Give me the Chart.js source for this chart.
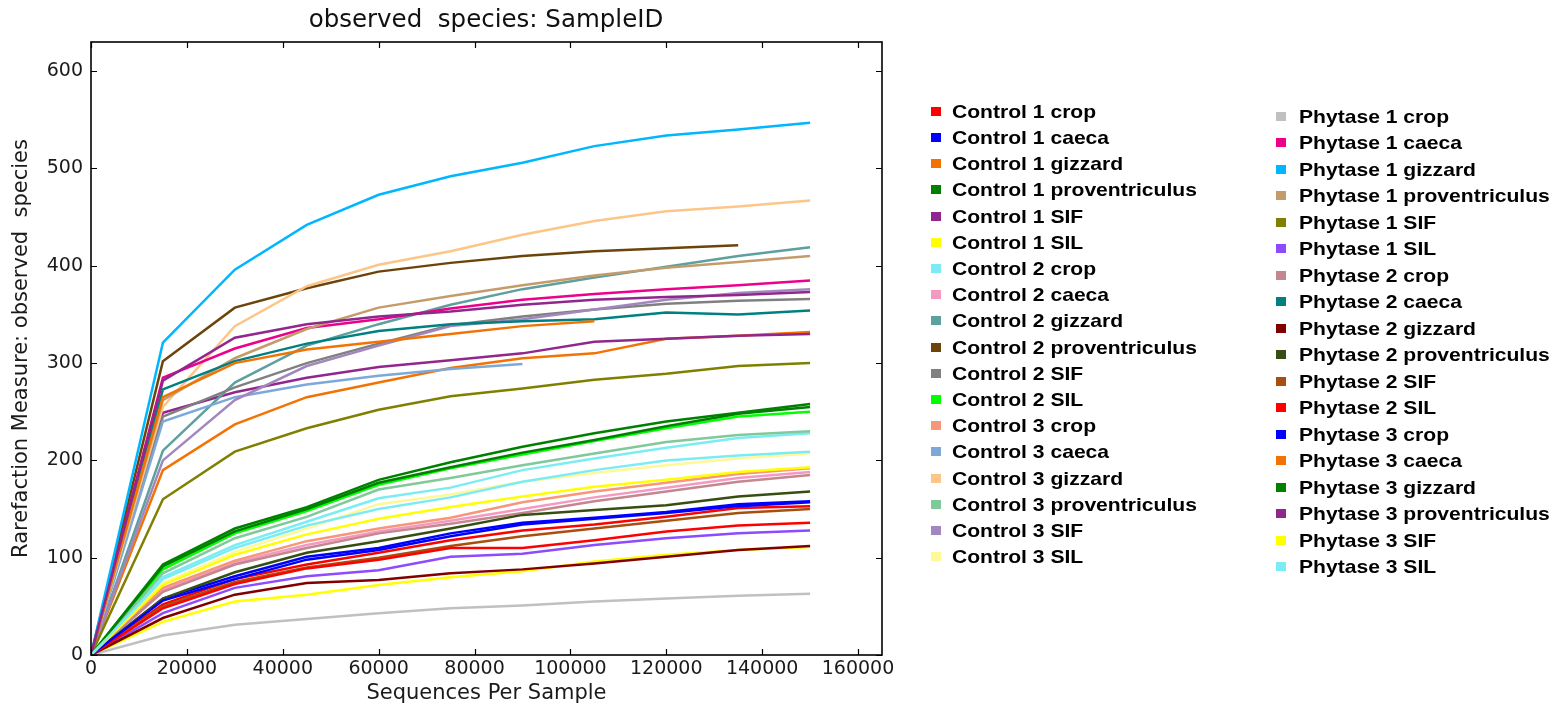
<!DOCTYPE html>
<html><head><meta charset="utf-8">
<script src="https://cdn.jsdelivr.net/npm/chart.js@4.4.1/dist/chart.umd.min.js"></script>
<style>
html,body{margin:0;padding:0;background:#fff;}
#wrap{position:relative;width:1555px;height:709px;overflow:hidden;background:#fff;}
#c{position:absolute;left:0;top:0;}
#title{position:absolute;left:236px;width:500px;top:3px;text-align:center;font-family:"DejaVu Sans",sans-serif;font-size:24.5px;color:#111;white-space:pre;line-height:32px;}
.sw{position:absolute;width:10px;height:9px;}
.tx{position:absolute;font-family:"Liberation Sans",Arial,sans-serif;font-weight:bold;font-size:19px;line-height:22px;color:#000;white-space:nowrap;transform-origin:left center;transform:scaleX(1.11);}
</style></head>
<body>
<div id="wrap">
<canvas id="c" width="1555" height="709"></canvas>
<div id="title"></div>
<div id="legend"></div>
</div>
<script>
// ---- data ----
const seqDepths = [0,15000,30000,45000,60000,75000,90000,105000,120000,135000,150000];
const xTickValues = [0,20000,40000,60000,80000,100000,120000,140000,160000];
const yTickValues = [0,100,200,300,400,500,600];

const control1Crop            = [0,52,78,93,105,118,128,134,142,151,153];
const control1Caeca           = [0,58,81,101,110,125,136,141,147,155,158];
const control1Gizzard         = [0,190,237,265,280,295,305,310,325,328,332];
const control1Proventriculus  = [0,93,130,152,180,198,214,228,240,249,258];
const control1SIF             = [0,249,270,285,296,303,310,322,325,328,330];
const control1SIL             = [0,34,55,62,72,80,86,96,103,108,111];
const control2Crop            = [0,80,113,137,161,172,190,202,213,223,228];
const control2Caeca           = [0,67,95,113,127,138,150,162,172,182,188];
const control2Gizzard         = [0,210,280,318,340,360,376,388,399,410,419];
const control2Proventriculus  = [0,302,357,377,394,403,410,415,418,421,null];
const control2SIF             = [0,245,275,300,320,339,348,355,361,364,366];
const control2SIL             = [0,88,125,148,175,192,206,220,233,245,250];
const control3Crop            = [0,69,97,117,130,141,157,168,177,186,192];
const control3Caeca           = [0,240,265,278,287,294,299,null,null,null,null];
const control3Gizzard         = [0,255,338,379,401,415,432,446,456,461,467];
const control3Proventriculus  = [0,84,120,142,170,182,195,207,219,226,230];
const control3SIF             = [0,200,262,297,318,338,345,355,365,372,376];
const control3SIL             = [0,74,106,130,155,165,178,187,195,202,207];
const phytase1Crop            = [0,20,31,37,43,48,51,55,58,61,63];
const phytase1Caeca           = [0,285,315,336,345,356,365,371,376,380,385];
const phytase1Gizzard         = [0,321,396,442,473,492,506,523,534,540,547];
const phytase1Proventriculus  = [0,262,305,335,357,369,380,390,398,404,410];
const phytase1SIF             = [0,160,209,233,252,266,274,283,289,297,300];
const phytase1SIL             = [0,43,69,81,87,101,104,113,120,125,128];
const phytase2Crop            = [0,65,93,110,125,135,146,158,168,178,185];
const phytase2Caeca           = [0,273,302,320,333,340,343,345,352,350,354];
const phytase2Gizzard         = [0,38,62,74,77,84,88,94,101,108,112];
const phytase2Proventriculus  = [0,58,85,105,117,130,144,149,154,163,168];
const phytase2SIF             = [0,50,75,90,100,112,122,130,138,146,150];
const phytase2SIL             = [0,48,73,89,98,110,110,118,127,133,136];
const phytase3Crop            = [0,56,78,98,108,122,134,140,146,153,157];
const phytase3Caeca           = [0,265,300,314,322,330,338,343,null,null,null];
const phytase3Gizzard         = [0,91,127,150,177,193,208,221,235,248,255];
const phytase3Proventriculus  = [0,282,326,340,348,353,360,365,368,370,373];
const phytase3SIF             = [0,72,103,124,140,152,163,173,180,188,193];
const phytase3SIL             = [0,78,110,133,150,162,178,190,200,205,209];

const seriesNames = [
 "Control 1 crop","Control 1 caeca","Control 1 gizzard","Control 1 proventriculus","Control 1 SIF","Control 1 SIL",
 "Control 2 crop","Control 2 caeca","Control 2 gizzard","Control 2 proventriculus","Control 2 SIF","Control 2 SIL",
 "Control 3 crop","Control 3 caeca","Control 3 gizzard","Control 3 proventriculus","Control 3 SIF","Control 3 SIL",
 "Phytase 1 crop","Phytase 1 caeca","Phytase 1 gizzard","Phytase 1 proventriculus","Phytase 1 SIF","Phytase 1 SIL",
 "Phytase 2 crop","Phytase 2 caeca","Phytase 2 gizzard","Phytase 2 proventriculus","Phytase 2 SIF","Phytase 2 SIL",
 "Phytase 3 crop","Phytase 3 caeca","Phytase 3 gizzard","Phytase 3 proventriculus","Phytase 3 SIF","Phytase 3 SIL"
];
const seriesValues = [
 control1Crop,control1Caeca,control1Gizzard,control1Proventriculus,control1SIF,control1SIL,
 control2Crop,control2Caeca,control2Gizzard,control2Proventriculus,control2SIF,control2SIL,
 control3Crop,control3Caeca,control3Gizzard,control3Proventriculus,control3SIF,control3SIL,
 phytase1Crop,phytase1Caeca,phytase1Gizzard,phytase1Proventriculus,phytase1SIF,phytase1SIL,
 phytase2Crop,phytase2Caeca,phytase2Gizzard,phytase2Proventriculus,phytase2SIF,phytase2SIL,
 phytase3Crop,phytase3Caeca,phytase3Gizzard,phytase3Proventriculus,phytase3SIF,phytase3SIL
];
const seriesColors = [
 "#ff0000","#0000ff","#f27304","#008000","#91278d","#ffff00",
 "#7cecf4","#f49ac2","#5da09e","#6b440b","#808080","#00ff00",
 "#f79679","#7da9d8","#fcc688","#80c99b","#a287bf","#fff899",
 "#c0c0c0","#ed008a","#00b6ff","#c49c6b","#808000","#8c4bff",
 "#c4868f","#008080","#800000","#374e12","#a84f10","#ff0000",
 "#0000ff","#f27304","#008000","#91278d","#ffff00","#7cecf4"
];

// ---- chart ----
const datasets = seriesNames.map((name,i)=>({
  label:name,
  data: seqDepths.map((x,j)=>({x:x,y:seriesValues[i][j]})).filter(p=>p.y!==null),
  borderColor: seriesColors[i],
  backgroundColor: seriesColors[i],
  borderWidth: 2.5,
  pointRadius: 0,
  fill:false,
  tension:0,
  order: -i
}));

const frameTicks = {
  id:'frameTicks',
  afterDraw(chart){
    const {ctx, chartArea:a, scales:{x,y}} = chart;
    ctx.save();
    ctx.strokeStyle='#000';
    ctx.lineWidth=1.2;
    ctx.beginPath();
    xTickValues.forEach(v=>{
      const px=Math.round(x.getPixelForValue(v))+0.5;
      ctx.moveTo(px,a.bottom); ctx.lineTo(px,a.bottom-6);
      ctx.moveTo(px,a.top); ctx.lineTo(px,a.top+6);
    });
    yTickValues.forEach(v=>{
      const py=Math.round(y.getPixelForValue(v))+0.5;
      ctx.moveTo(a.left,py); ctx.lineTo(a.left+6,py);
      ctx.moveTo(a.right,py); ctx.lineTo(a.right-6,py);
    });
    ctx.stroke();
    ctx.lineWidth=1.6;
    ctx.strokeRect(a.left,a.top,a.right-a.left,a.bottom-a.top);
    ctx.restore();
  }
};

new Chart(document.getElementById('c'),{
  type:'line',
  data:{datasets},
  options:{
    responsive:false,
    animation:false,
    layout:{padding:{left:0,top:42,right:1555-882,bottom:0}},
    plugins:{legend:{display:false},tooltip:{enabled:false},title:{display:false}},
    scales:{
      x:{
        type:'linear',min:0,max:165000,
        afterBuildTicks:s=>{s.ticks=xTickValues.map(v=>({value:v}));},
        afterFit:s=>{s.height=709-655;},
        grid:{display:false,drawTicks:false},
        border:{display:false},
        ticks:{font:{family:'DejaVu Sans',size:19},color:'#1a1a1a',padding:3,maxRotation:0,autoSkip:false,
               callback:v=>String(v)},
        title:{display:true,text:'Sequences Per Sample',font:{family:'DejaVu Sans',size:21},color:'#1a1a1a',padding:{top:0,bottom:3}}
      },
      y:{
        type:'linear',min:0,max:630,
        afterBuildTicks:s=>{s.ticks=yTickValues.map(v=>({value:v}));},
        afterFit:s=>{s.width=91;},
        grid:{display:false,drawTicks:false},
        border:{display:false},
        ticks:{font:{family:'DejaVu Sans',size:19},color:'#1a1a1a',padding:8,autoSkip:false,
               callback:v=>String(v)},
        title:{display:true,text:'Rarefaction Measure: observed  species',font:{family:'DejaVu Sans',size:21},color:'#1a1a1a',padding:{top:9,bottom:0}}
      }
    }
  },
  plugins:[frameTicks]
});

// ---- title & legend (real text) ----
document.getElementById('title').textContent = 'observed  species: SampleID';
const legend = document.getElementById('legend');
seriesNames.forEach((name,i)=>{
  const col = i<18 ? 0 : 1;
  const row = i%18;
  const yc = col===0 ? 111.7 + row*26.2 : 116.7 + row*26.5;
  const sqx = col===0 ? 931 : 1276;
  const txx = col===0 ? 952 : 1299;
  const sw = document.createElement('div');
  sw.className='sw';
  sw.style.left=sqx+'px'; sw.style.top=(yc-5)+'px';
  sw.style.background=seriesColors[i];
  legend.appendChild(sw);
  const t = document.createElement('div');
  t.className='tx';
  t.style.left=txx+'px'; t.style.top=(yc-11)+'px';
  t.textContent=name;
  legend.appendChild(t);
});
</script>
</body></html>
